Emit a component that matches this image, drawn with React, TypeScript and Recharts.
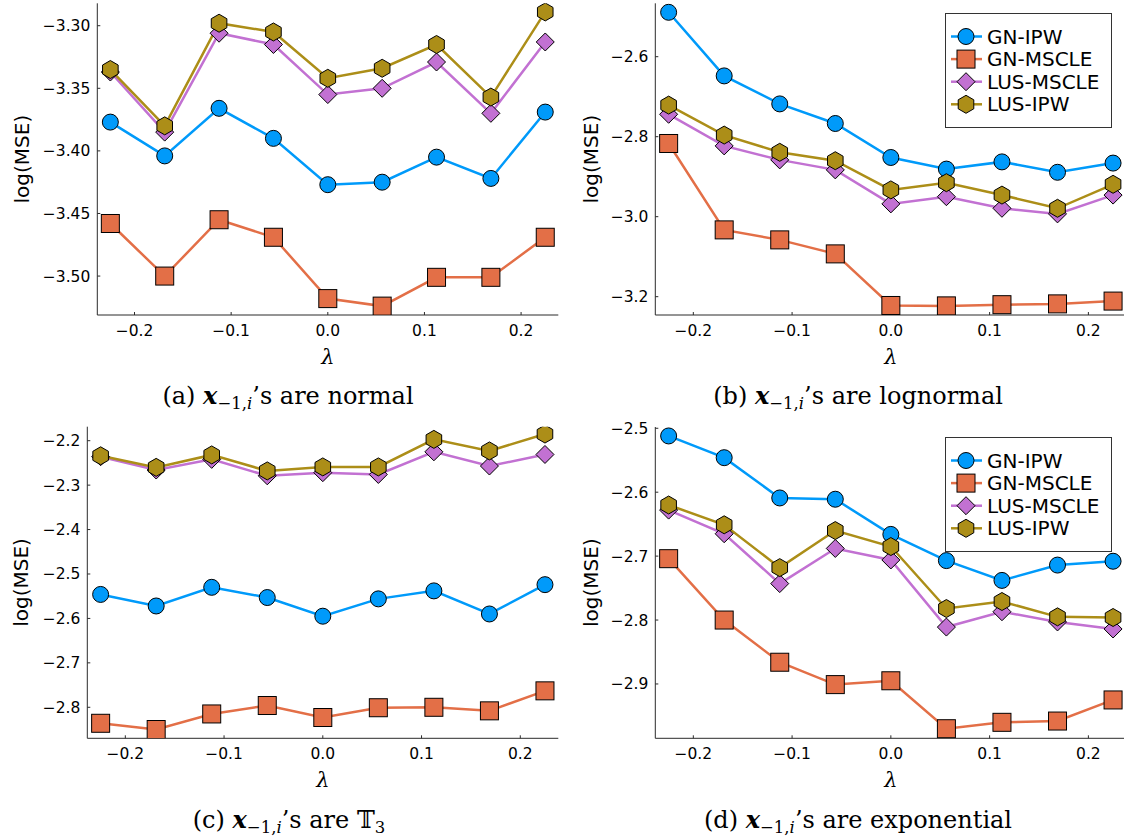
import React from 'react';
import { Line, LineChart, XAxis, YAxis } from 'recharts';

// lambda grid shared by all four panels
const lambdas = [-0.225, -0.16875, -0.1125, -0.05625, 0, 0.05625, 0.1125, 0.16875, 0.225];
const xTicks = [-0.2, -0.1, 0, 0.1, 0.2];

const seriesNames = ['GN-IPW', 'GN-MSCLE', 'LUS-MSCLE', 'LUS-IPW'];
const seriesColors = ['#009AFA', '#E36F47', '#C271D2', '#AC8E18'];

// (a) normal
const normalGnIpw = [-3.377, -3.404, -3.366, -3.390, -3.427, -3.425, -3.405, -3.422, -3.369];
const normalGnMscle = [-3.458, -3.500, -3.455, -3.469, -3.518, -3.524, -3.501, -3.501, -3.469];
const normalLusMscle = [-3.337, -3.385, -3.306, -3.315, -3.355, -3.350, -3.329, -3.370, -3.313];
const normalLusIpw = [-3.335, -3.380, -3.298, -3.305, -3.342, -3.334, -3.315, -3.357, -3.289];
const normalTicks = [-3.5, -3.45, -3.4, -3.35, -3.3];

// (b) lognormal
const lognormGnIpw = [-2.489, -2.648, -2.718, -2.767, -2.852, -2.881, -2.863, -2.889, -2.866];
const lognormGnMscle = [-2.817, -3.033, -3.058, -3.093, -3.222, -3.223, -3.220, -3.218, -3.211];
const lognormLusMscle = [-2.744, -2.823, -2.858, -2.883, -2.968, -2.950, -2.979, -2.993, -2.946];
const lognormLusIpw = [-2.721, -2.796, -2.839, -2.860, -2.933, -2.915, -2.946, -2.979, -2.919];
const lognormTicks = [-3.2, -3.0, -2.8, -2.6];

// (c) T3
const tGnIpw = [-2.546, -2.572, -2.530, -2.553, -2.595, -2.556, -2.538, -2.590, -2.524];
const tGnMscle = [-2.836, -2.850, -2.815, -2.796, -2.823, -2.801, -2.800, -2.808, -2.763];
const tLusMscle = [-2.236, -2.266, -2.242, -2.279, -2.272, -2.276, -2.225, -2.257, -2.231];
const tLusIpw = [-2.234, -2.260, -2.232, -2.268, -2.259, -2.259, -2.197, -2.223, -2.185];
const tTicks = [-2.8, -2.7, -2.6, -2.5, -2.4, -2.3, -2.2];

// (d) exponential
const expGnIpw = [-2.512, -2.546, -2.609, -2.611, -2.666, -2.707, -2.738, -2.714, -2.708];
const expGnMscle = [-2.704, -2.800, -2.866, -2.901, -2.895, -2.970, -2.960, -2.958, -2.925];
const expLusMscle = [-2.628, -2.665, -2.743, -2.688, -2.706, -2.811, -2.787, -2.803, -2.814];
const expLusIpw = [-2.620, -2.651, -2.718, -2.660, -2.685, -2.782, -2.771, -2.795, -2.796];
const expTicks = [-2.9, -2.8, -2.7, -2.6, -2.5];

const buildRows = (cols: number[][]) =>
  lambdas.map((lam, i) => ({ lam, s0: cols[0][i], s1: cols[1][i], s2: cols[2][i], s3: cols[3][i] }));

const minus = (s: string) => s.replace('-', '\u2212');

const Marker = ({ kind, cx, cy }: { kind: number; cx: number; cy: number }) => {
  const fill = seriesColors[kind];
  const common = { fill, stroke: '#000', strokeWidth: 1 };
  if (kind === 0) return <circle cx={cx} cy={cy} r={8} {...common} />;
  if (kind === 1) return <rect x={cx - 9} y={cy - 9} width={18} height={18} {...common} />;
  if (kind === 2)
    return <path d={`M${cx},${cy - 9}L${cx + 9},${cy}L${cx},${cy + 9}L${cx - 9},${cy}Z`} {...common} />;
  const r = 9;
  const w = r * 0.866;
  return (
    <path
      d={`M${cx},${cy - r}L${cx + w},${cy - r / 2}L${cx + w},${cy + r / 2}L${cx},${cy + r}L${cx - w},${cy + r / 2}L${cx - w},${cy - r / 2}Z`}
      {...common}
    />
  );
};

const dotFor = (kind: number) => (p: any) => <Marker key={`m${kind}-${p.index}`} kind={kind} cx={p.cx} cy={p.cy} />;

const yLabel = (dist: number) => (props: any) => {
  const vb = props.viewBox;
  const x = vb.x + vb.width - dist;
  const y = vb.y + vb.height / 2;
  return (
    <text x={x} y={y} transform={`rotate(-90 ${x} ${y})`} textAnchor="middle" dominantBaseline="central"
      fontSize={20} fontFamily="DejaVu Sans" fill="#000">
      log(MSE)
    </text>
  );
};

const xLabel = (props: any) => {
  const vb = props.viewBox;
  return (
    <text x={vb.x + vb.width / 2} y={vb.y + 42} textAnchor="middle" dominantBaseline="central"
      fontSize={21} fontStyle="italic" fontFamily="DejaVu Serif" fill="#000">
      λ
    </text>
  );
};

interface PanelProps {
  left: number;
  top: number;
  width: number;
  height: number;
  margin: { top: number; right: number; bottom: number; left: number };
  yWidth: number;
  xHeight: number;
  yDomain: [number, number];
  yTicks: number[];
  digits: number;
  labelDist: number;
  cols: number[][];
}

const Panel = (p: PanelProps) => (
  <div style={{ position: 'absolute', left: p.left, top: p.top }}>
    <LineChart width={p.width} height={p.height} data={buildRows(p.cols)} margin={p.margin}>
      <XAxis
        dataKey="lam"
        type="number"
        domain={[-0.2385, 0.2385]}
        ticks={xTicks}
        height={p.xHeight}
        tickFormatter={(v: number) => minus(v.toFixed(1))}
        tick={{ fill: '#000', fontSize: 15.5, fontFamily: 'DejaVu Sans' }}
        stroke="#2b2b2b"
        tickSize={-3}
        tickMargin={13}
        label={xLabel}
        allowDataOverflow
      />
      <YAxis
        type="number"
        domain={p.yDomain}
        ticks={p.yTicks}
        width={p.yWidth}
        tickFormatter={(v: number) => minus(v.toFixed(p.digits))}
        tick={{ fill: '#000', fontSize: 15.5, fontFamily: 'DejaVu Sans' }}
        stroke="#2b2b2b"
        tickSize={-3}
        tickMargin={10}
        label={yLabel(p.labelDist)}
        allowDataOverflow
      />
      {seriesNames.map((name, k) => (
        <Line
          key={name}
          name={name}
          dataKey={`s${k}`}
          type="linear"
          stroke={seriesColors[k]}
          strokeWidth={2.5}
          dot={dotFor(k)}
          activeDot={false}
          isAnimationActive={false}
        />
      ))}
    </LineChart>
  </div>
);

const LegendBox = ({ left, top }: { left: number; top: number }) => (
  <svg style={{ position: 'absolute', left, top }} width={167} height={115}>
    <rect x={0.5} y={0.5} width={166} height={114} fill="#fff" stroke="#333" strokeWidth={1} />
    {seriesNames.map((name, k) => {
      const cy = 23.5 + k * 22.6;
      return (
        <g key={name}>
          <line x1={6} x2={37} y1={cy} y2={cy} stroke={seriesColors[k]} strokeWidth={2.5} />
          <Marker kind={k} cx={21} cy={cy} />
          <text x={42} y={cy} dominantBaseline="central" fontSize={20} fontFamily="DejaVu Sans" fill="#000">
            {name}
          </text>
        </g>
      );
    })}
  </svg>
);

const subStyle = { fontSize: 16.5, verticalAlign: '-5px', lineHeight: 0 };

const Caption = ({ cx, cy, tag, tail }: { cx: number; cy: number; tag: string; tail: React.ReactNode }) => (
  <div
    style={{
      position: 'absolute',
      left: cx - 250,
      top: cy - 17,
      width: 500,
      height: 34,
      lineHeight: '34px',
      textAlign: 'center',
      fontFamily: 'DejaVu Serif',
      fontSize: 24,
      color: '#000',
      whiteSpace: 'nowrap'
    }}
  >
    ({tag}) <b><i>x</i></b>
    <sub style={subStyle}>
      −1,<i>i</i>
    </sub>
    ’s are {tail}
  </div>
);

export default function App() {
  return (
    <div style={{ position: 'absolute', left: 0, top: 0, width: 1124, height: 836, overflow: 'hidden', background: '#fff' }}>
      <Panel left={0} top={0} width={570} height={370}
        margin={{ top: 3.3, right: 11.7, bottom: 0, left: 0 }} yWidth={97.3} xHeight={55}
        yDomain={[-3.5311, -3.2821]} yTicks={normalTicks} digits={2} labelDist={75.6}
        cols={[normalGnIpw, normalGnMscle, normalLusMscle, normalLusIpw]} />
      <Panel left={570} top={0} width={560} height={370}
        margin={{ top: 3.3, right: 3.6, bottom: 0, left: 0 }} yWidth={85.3} xHeight={55}
        yDomain={[-3.2458, -2.4665]} yTicks={lognormTicks} digits={1} labelDist={64.6}
        cols={[lognormGnIpw, lognormGnMscle, lognormLusMscle, lognormLusIpw]} />
      <Panel left={0} top={415} width={570} height={380}
        margin={{ top: 11.7, right: 11.7, bottom: 0, left: 0 }} yWidth={87.3} xHeight={56.7}
        yDomain={[-2.8698, -2.1685]} yTicks={tTicks} digits={1} labelDist={66.6}
        cols={[tGnIpw, tGnMscle, tLusMscle, tLusIpw]} />
      <Panel left={570} top={415} width={560} height={380}
        margin={{ top: 12, right: 3.6, bottom: 0, left: 0 }} yWidth={85.3} xHeight={56.7}
        yDomain={[-2.985, -2.498]} yTicks={expTicks} digits={1} labelDist={64.6}
        cols={[expGnIpw, expGnMscle, expLusMscle, expLusIpw]} />
      <LegendBox left={945} top={13} />
      <LegendBox left={945} top={437} />
      <Caption cx={288} cy={396} tag="a" tail="normal" />
      <Caption cx={858} cy={396} tag="b" tail="lognormal" />
      <Caption cx={289} cy={820} tag="c" tail={<span>𝕋<sub style={subStyle}>3</sub></span>} />
      <Caption cx={858} cy={820} tag="d" tail="exponential" />
    </div>
  );
}
